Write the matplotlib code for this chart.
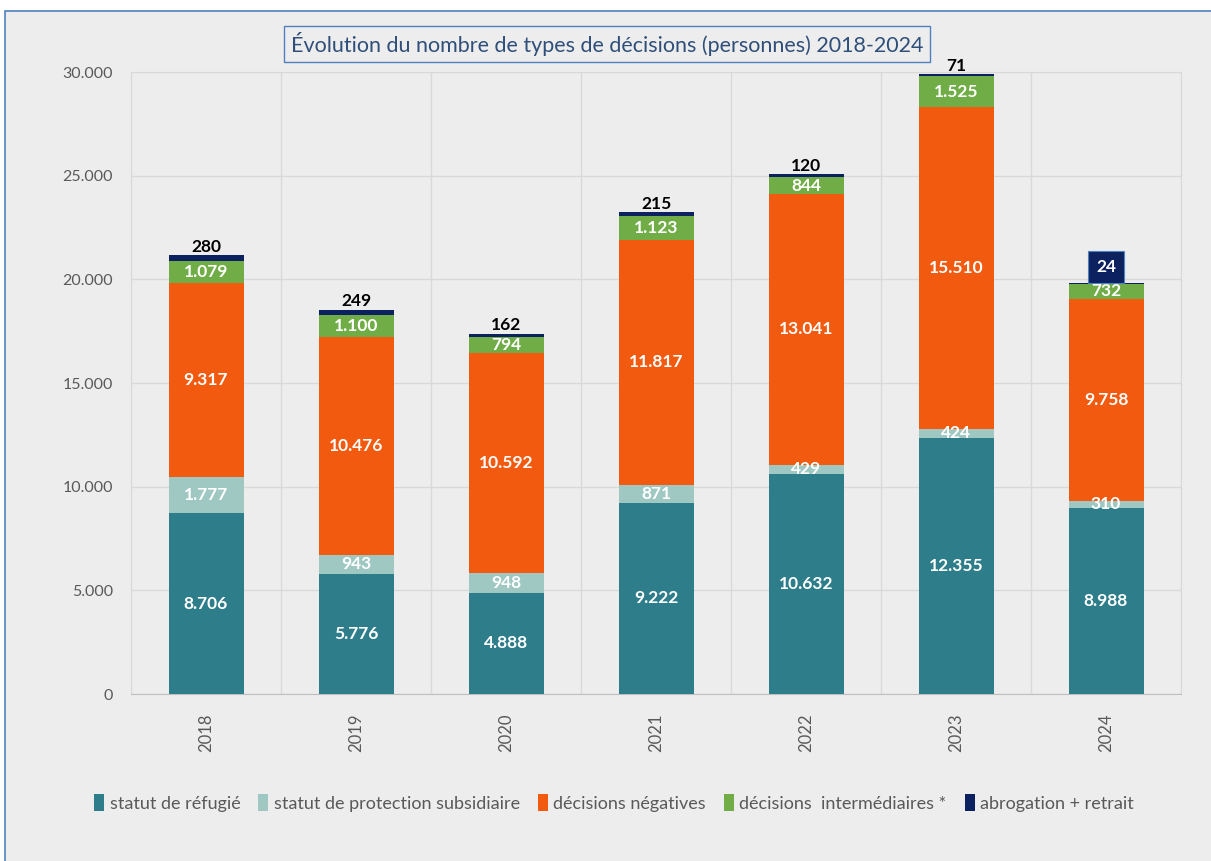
import matplotlib
matplotlib.use("Agg")
import matplotlib.pyplot as plt
from matplotlib.patches import Rectangle
import numpy as np

plt.rcParams['font.family'] = ['Lato', 'DejaVu Sans']

years = ["2018", "2019", "2020", "2021", "2022", "2023", "2024"]
refugie = [8706, 5776, 4888, 9222, 10632, 12355, 8988]
subsidiaire = [1777, 943, 948, 871, 429, 424, 310]
negatives = [9317, 10476, 10592, 11817, 13041, 15510, 9758]
intermediaires = [1079, 1100, 794, 1123, 844, 1525, 732]
abrogation = [280, 249, 162, 215, 120, 71, 24]

series_names = ["statut de réfugié", "statut de protection subsidiaire",
                "décisions négatives", "décisions  intermédiaires *",
                "abrogation + retrait"]
colors = ["#2e7d8a", "#9fc8c2", "#f25a10", "#70ad47", "#0c2260"]
series = [refugie, subsidiaire, negatives, intermediaires, abrogation]

def fmt(v):
    return f"{v:,}".replace(",", ".")

fig = plt.figure(figsize=(12.11, 8.61), dpi=100)
fig.patch.set_facecolor("white")
# chart area background
bg = Rectangle((5/1211, -0.05), 1.1, 1 - 11/861 + 0.05, transform=fig.transFigure,
               facecolor="#ededed", edgecolor="#4f81bd", linewidth=1.2, zorder=-10)
fig.patches.append(bg)

ax = fig.add_axes([131/1211, 1 - 694/861, 1050/1211, (694 - 72)/861])
ax.set_facecolor("#ededed")
x = np.arange(len(years))
bottom = np.zeros(len(years))
for i, (vals, col, name) in enumerate(zip(series, colors, series_names)):
    vals = np.array(vals)
    ax.bar(x, vals, width=0.5, bottom=bottom, color=col, label=name,
           zorder=3, linewidth=0)
    for j, (v, b) in enumerate(zip(vals, bottom)):
        if i < 4:
            ax.text(x[j], b + v / 2, fmt(int(v)), ha="center", va="center",
                    color="white", fontsize=12.5, fontweight="bold", zorder=5,
                    clip_on=False)
        else:
            top = b + v
            if years[j] == "2024":
                ax.text(x[j], top + 790, fmt(int(v)), ha="center", va="center",
                        color="white", fontsize=12.5, fontweight="bold", zorder=5,
                        clip_on=False,
                        bbox=dict(boxstyle="square,pad=0.45", facecolor=col,
                                  edgecolor="#4f81bd", linewidth=0.8))
            else:
                ax.text(x[j], top + 20, fmt(int(v)), ha="center", va="bottom",
                        color="black", fontsize=12.5, fontweight="bold", zorder=5,
                        clip_on=False)
    bottom = bottom + vals

ax.set_xlim(-0.5, len(years) - 0.5)
ax.set_ylim(0, 30000)
ax.set_yticks(np.arange(0, 30001, 5000))
ax.set_yticklabels([fmt(v) for v in range(0, 30001, 5000)], color="#595959", fontsize=11.5)
ax.set_xticks(x)
ax.set_xticklabels(years, rotation=90, color="#595959", fontsize=12)
ax.set_xticks(np.arange(-0.5, len(years), 1), minor=True)
ax.tick_params(axis="both", which="both", length=0)
ax.tick_params(axis="y", pad=13)
ax.tick_params(axis="x", pad=14)
ax.grid(axis="y", color="#d9d9d9", linewidth=1, zorder=0)
ax.grid(axis="x", which="minor", color="#d9d9d9", linewidth=1, zorder=0)
for s in ["top", "right", "left"]:
    ax.spines[s].set_color("#d9d9d9")
ax.spines["bottom"].set_color("#bfbfbf")

fig.text(607/1211, 1 - 44/861, "Évolution du nombre de types de décisions (personnes) 2018-2024",
         ha="center", va="center", fontsize=15.5, color="#2f4f7a",
         bbox=dict(boxstyle="square,pad=0.3", facecolor="#ededed",
                   edgecolor="#4f81bd", linewidth=1))

handles, labels = ax.get_legend_handles_labels()
fig.legend(handles, labels, loc="center", bbox_to_anchor=(614/1211, 1 - 803/861),
           ncol=5, frameon=False, fontsize=13, labelcolor="#595959",
           handlelength=0.55, handleheight=1.0, handletextpad=0.3, columnspacing=1.0)

fig.savefig("out.png", dpi=100, facecolor=fig.get_facecolor())
